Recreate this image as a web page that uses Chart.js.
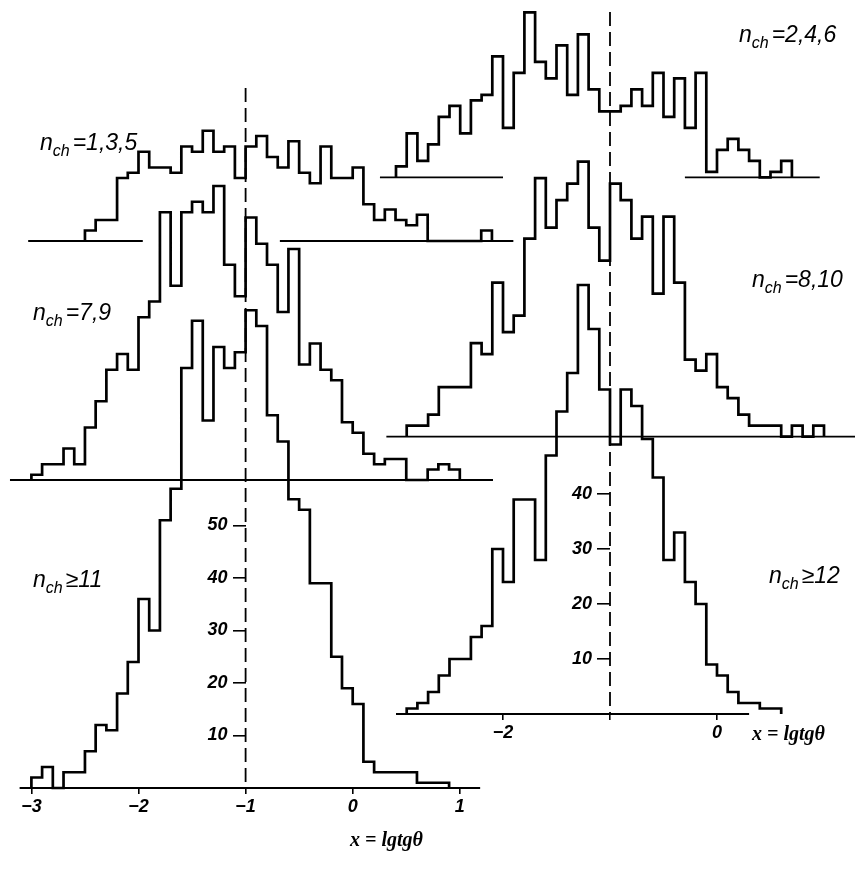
<!DOCTYPE html>
<html>
<head>
<meta charset="utf-8">
<script src="https://cdn.jsdelivr.net/npm/chart.js@4.4.0/dist/chart.umd.min.js"></script>
<style>
  html, body { margin: 0; padding: 0; background: #fff; }
  #wrap { position: relative; width: 855px; height: 872px; }
  #wrap canvas { position: absolute; left: 0; top: 0; }
</style>
</head>
<body>
<div id="wrap">
  <canvas id="leftChart" width="855" height="872"></canvas>
  <canvas id="rightChart" width="855" height="872"></canvas>
</div>
<script>
// bin width in x = lg tg(theta)
const BIN = 0.1;

// left group: odd multiplicities
const odd135Start = -2.5;
const odd135Counts = [2, 4, 4, 12, 13, 17, 14, 14, 13, 18, 17, 21, 17, 18, 12, 18, 20, 16, 14, 19,
  13, 11, 18, 12, 12, 14, 7, 4, 6, 4, 3, 5, 0, 0, 0, 0, 0, 2];
const odd79Start = -3.0;
const odd79Counts = [1, 3, 3, 6, 3, 10, 15, 21, 24, 21, 31, 34, 51, 37, 51, 53, 51, 56, 41, 35,
  50, 45, 41, 32, 44, 22, 26, 21, 19, 11, 9, 5, 3, 4, 4, 0, 0, 2, 3, 2];
const odd11Start = -3.0;
const odd11Counts = [2, 4, 0, 3, 3, 7, 12, 11, 18, 24, 36, 30, 51, 57, 80, 89, 70, 84, 80, 83,
  91, 88, 71, 66, 55, 53, 39, 39, 25, 19, 16, 5, 3, 3, 3, 3, 1, 1, 1];

// right group: even multiplicities
const even246Start = -3.0;
const even246Counts = [2, 8, 3, 6, 11, 13, 8, 14, 15, 22, 9, 19, 30, 21, 18, 24, 15, 26, 16, 12,
  12, 13, 16, 13, 19, 11, 18, 9, 19, 1, 5, 7, 5, 3, 0, 1, 3];
const even810Start = -2.9;
const even810Counts = [2, 2, 4, 9, 9, 9, 17, 15, 28, 19, 22, 36, 47, 38, 43, 46, 50, 38, 32, 46,
  43, 36, 40, 26, 40, 28, 14, 12, 15, 9, 7, 4, 2, 2, 2, 0, 2, 0, 2];
const even12Start = -2.9;
const even12Counts = [1, 2, 4, 7, 10, 10, 14, 16, 30, 24, 39, 39, 28, 47, 55, 62, 78, 70, 59, 49,
  59, 56, 50, 43, 28, 33, 24, 20, 9, 7, 4, 2, 2, 1, 1];

const leftXTicks = [-3, -2, -1, 0, 1];
const rightXTicks = [-2, -1, 0];
const rightXLabelled = [-2, 0];
const leftYTicks = [10, 20, 30, 40, 50];
const rightYTicks = [10, 20, 30, 40];

// page layout (pixels)
const W = 855, H = 872;
const LEFT = { zero: 352.7, unit: 107.1, top: 88, bottom: 788, perCount: 5.25 };
const RIGHT = { zero: 717, unit: 107, top: 12, bottom: 714, perCount: 5.5 };
const TICK_FONT = { family: '"Liberation Sans", sans-serif', size: 18, style: 'italic', weight: 'bold' };

function histPoints(start, counts) {
  const pts = [{ x: start, y: 0 }];
  counts.forEach((c, i) => pts.push({ x: start + i * BIN, y: c }));
  pts.push({ x: start + counts.length * BIN, y: 0 });
  return pts;
}

function yScale(g, basePx, ticks) {
  const min = -(g.bottom - basePx) / g.perCount;
  const s = {
    type: 'linear',
    display: !!ticks,
    min: min,
    max: min + (g.bottom - g.top) / g.perCount
  };
  if (ticks) {
    s.position = { x: -1 };
    s.afterBuildTicks = (sc) => { sc.ticks = ticks.map(v => ({ value: v })); };
    s.grid = { drawOnChartArea: false, drawTicks: true, tickLength: 13, color: '#000', lineWidth: 1.6 };
    s.border = { display: false };
    s.ticks = { color: '#000', padding: 0, font: TICK_FONT,
      callback: (v) => String(v) + '\u2002\u2002' };
  }
  return s;
}

function xScale(g, ticks, labelled) {
  return {
    type: 'linear',
    min: -g.zero / g.unit,
    max: (W - g.zero) / g.unit,
    afterBuildTicks: (sc) => { sc.ticks = ticks.map(v => ({ value: v })); },
    afterFit: (sc) => { sc.height = 30; },
    grid: { drawOnChartArea: false, drawTicks: true, tickLength: 6, color: '#000', lineWidth: 1.6 },
    border: { display: false },
    ticks: {
      color: '#000', padding: 2, maxRotation: 0, autoSkip: false, font: TICK_FONT,
      callback: (v) => (labelled && !labelled.includes(v)) ? '' : (v < 0 ? '\u2212' + Math.abs(v) : String(v))
    }
  };
}

function hist(points, axis) {
  return { data: points, yAxisID: axis, stepped: true, borderColor: '#000', borderWidth: 2.7,
    pointRadius: 0, fill: false, clip: false };
}

function baseLine(axis, segs) {
  const pts = [];
  segs.forEach((s, i) => {
    if (i > 0) pts.push({ x: (segs[i - 1][1] + s[0]) / 2, y: null });
    pts.push({ x: s[0], y: 0 }, { x: s[1], y: 0 });
  });
  return { data: pts, yAxisID: axis, borderColor: '#000', borderWidth: 1.8, pointRadius: 0,
    fill: false, clip: false, spanGaps: false };
}

// dashed marker at x = -1 over the full height of the group
function dashLine(g, axis) {
  return { data: [{ x: -1, y: (g.bottom - g.top) / g.perCount }, { x: -1, y: 0 }], yAxisID: axis,
    borderColor: '#000', borderWidth: 1.8, borderDash: [14, 6], pointRadius: 0, fill: false, clip: false };
}

function drawNch(ctx, x, y, rel) {
  ctx.fillStyle = '#000';
  ctx.textBaseline = 'alphabetic';
  ctx.textAlign = 'left';
  ctx.font = 'italic 23px "Liberation Sans"';
  ctx.fillText('n', x, y);
  let w = ctx.measureText('n').width;
  ctx.font = 'italic 16px "Liberation Sans"';
  ctx.fillText('ch', x + w, y + 6);
  w += ctx.measureText('ch').width + 3;
  ctx.font = 'italic 23px "Liberation Sans"';
  ctx.fillText(rel, x + w, y);
}

function labelsPlugin(items, xLabel) {
  return {
    id: 'labels',
    afterDraw(chart) {
      const ctx = chart.ctx;
      ctx.save();
      items.forEach(it => drawNch(ctx, it[0], it[1], it[2]));
      ctx.font = 'italic bold 20px "Liberation Serif"';
      ctx.textAlign = 'left';
      ctx.fillText('x = lgtg\u03B8', xLabel[0], xLabel[1]);
      ctx.restore();
    }
  };
}

const baseOptions = {
  responsive: false,
  animation: false,
  events: [],
  plugins: { legend: { display: false }, tooltip: { enabled: false } }
};

// left chart: n_ch odd
new Chart(document.getElementById('leftChart'), {
  type: 'line',
  data: {
    datasets: [
      dashLine(LEFT, 'yC'),
      hist(histPoints(odd135Start, odd135Counts), 'yA'),
      baseLine('yA', [[-3.03, -1.96], [-0.68, 1.5]]),
      hist(histPoints(odd79Start, odd79Counts), 'yB'),
      baseLine('yB', [[-3.2, 1.31]]),
      hist(histPoints(odd11Start, odd11Counts), 'yC'),
      baseLine('yC', [[-3.11, 1.19]])
    ]
  },
  options: Object.assign({}, baseOptions, {
    layout: { padding: { left: 0, right: 0, top: LEFT.top, bottom: H - LEFT.bottom - 30 } },
    scales: {
      x: xScale(LEFT, leftXTicks, null),
      yA: yScale(LEFT, 241),
      yB: yScale(LEFT, 480),
      yC: yScale(LEFT, LEFT.bottom, leftYTicks)
    }
  }),
  plugins: [labelsPlugin([[40, 150, '=1,3,5'], [33, 320, '=7,9'], [33, 587, '\u226511']], [350, 846])]
});

// right chart: n_ch even
new Chart(document.getElementById('rightChart'), {
  type: 'line',
  data: {
    datasets: [
      dashLine(RIGHT, 'yC'),
      hist(histPoints(even246Start, even246Counts), 'yA'),
      baseLine('yA', [[-3.15, -2.0], [-0.3, 0.96]]),
      hist(histPoints(even810Start, even810Counts), 'yB'),
      baseLine('yB', [[-3.09, 1.3]]),
      hist(histPoints(even12Start, even12Counts), 'yC'),
      baseLine('yC', [[-3.0, 0.3]])
    ]
  },
  options: Object.assign({}, baseOptions, {
    layout: { padding: { left: 0, right: 0, top: RIGHT.top, bottom: H - RIGHT.bottom - 30 } },
    scales: {
      x: xScale(RIGHT, rightXTicks, rightXLabelled),
      yA: yScale(RIGHT, 177.3),
      yB: yScale(RIGHT, 436.7),
      yC: yScale(RIGHT, RIGHT.bottom, rightYTicks)
    }
  }),
  plugins: [labelsPlugin([[739, 42, '=2,4,6'], [752, 287, '=8,10'], [769, 583, '\u226512']], [752, 740])]
});
</script>
</body>
</html>
